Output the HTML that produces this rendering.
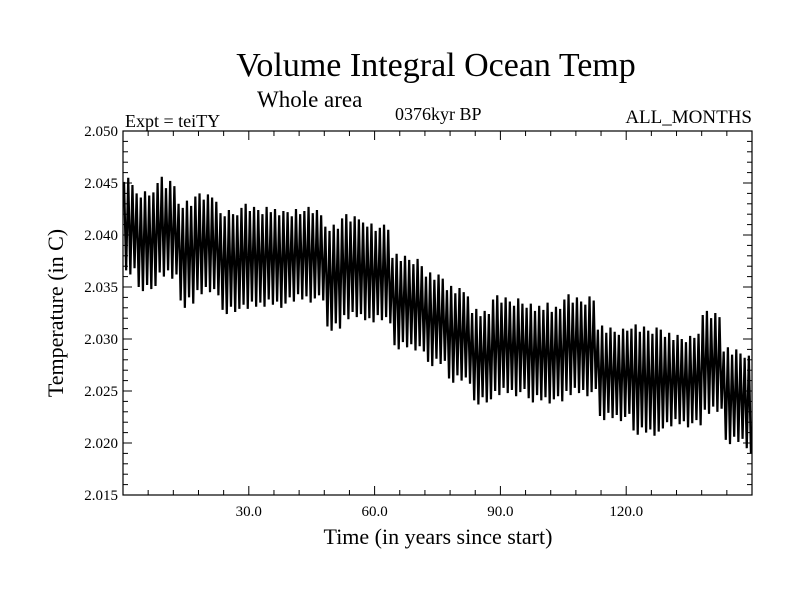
<!DOCTYPE html>
<html><head><meta charset="utf-8"><style>
html,body{margin:0;padding:0;background:#fff;}
svg text{font-family:"Liberation Serif",serif;fill:#000;}
</style></head><body>
<svg id="chart" width="800" height="600" xmlns="http://www.w3.org/2000/svg">
<text x="436" y="76" font-size="34" text-anchor="middle">Volume Integral Ocean Temp</text>
<text x="257" y="107" font-size="23">Whole area</text>
<text x="125" y="127" font-size="18">Expt = teiTY</text>
<text x="395" y="120" font-size="18">0376kyr BP</text>
<text x="752" y="123" font-size="19" text-anchor="end">ALL_MONTHS</text>
<text transform="translate(63,313) rotate(-90)" font-size="22" text-anchor="middle">Temperature (in C)</text>
<text x="438" y="544" font-size="22" text-anchor="middle">Time (in years since start)</text>
<g id="ticks"></g>
<path id="series" fill="none" stroke="#000" stroke-width="2.2" stroke-linejoin="miter"/>
<rect x="123" y="131" width="629" height="364" fill="none" stroke="#000" stroke-width="1.2"/>
</svg>
<script>
const yTickLabels=["2.015","2.020","2.025","2.030","2.035","2.040","2.045","2.050"];
const xTickLabels=["30.0","60.0","90.0","120.0"];
const xTickValues=[30,60,90,120];
// yearly maxima/minima in units of 0.0001 above 2.0
const yearTop=[451,455,448,440,436,442,438,441,450,456,445,452,447,430,426,433,428,437,440,434,439,436,432,421,418,424,420,419,426,430,423,427,424,420,427,422,425,419,423,422,418,425,420,423,427,421,424,419,408,404,410,406,416,420,413,418,415,412,408,411,404,407,410,405,378,382,375,380,376,372,377,370,360,364,357,362,358,347,351,344,349,345,341,325,329,322,327,324,338,342,335,340,336,332,339,334,330,334,327,332,328,335,326,331,329,338,343,335,340,336,333,341,337,309,313,306,311,307,304,310,308,310,314,307,312,308,305,311,309,302,306,299,304,300,297,303,301,305,323,327,320,325,321,288,292,285,290,286,282,284];
const yearBottom=[366,362,368,350,346,352,348,351,364,360,366,358,362,337,330,340,334,347,343,350,345,348,342,328,324,331,326,329,333,329,336,331,335,331,338,333,336,330,334,340,336,343,338,341,335,339,342,337,312,308,315,310,323,319,326,321,324,318,320,316,323,318,321,315,294,290,297,292,295,289,293,288,278,274,281,276,279,262,258,265,260,263,257,241,237,244,239,242,250,246,253,248,251,245,249,252,243,239,246,241,244,238,242,245,240,250,246,253,248,251,245,249,252,226,222,229,224,227,221,225,228,212,208,215,210,213,207,211,214,220,216,223,218,221,215,219,222,217,232,228,235,230,233,203,199,206,201,204,195,190];
const X0=123,X1=752,Y0=495,Y1=131,XMIN=0,XMAX=150,YMIN=2.015,YMAX=2.050;
const xs=v=>X0+(v-XMIN)/(XMAX-XMIN)*(X1-X0);
const ys=v=>Y0-(v-YMIN)/(YMAX-YMIN)*(Y0-Y1);
const NS="http://www.w3.org/2000/svg";
const tg=document.getElementById('ticks');
function mk(tag,at){const e=document.createElementNS(NS,tag);for(const k in at)e.setAttribute(k,at[k]);tg.appendChild(e);return e;}
for(let i=0;i<=35;i++){
  const v=YMIN+i*0.001,y=ys(v),L=(i%5===0)?9:5;
  const a=mk('line',{x1:X0,x2:X0+L,y1:y,y2:y,stroke:'#000','stroke-width':1});
  
  
  const b=mk('line',{x1:X1,x2:X1-L,y1:y,y2:y,stroke:'#000','stroke-width':1});
  
  
}
yTickLabels.forEach((t,i)=>{
  const e=mk('text',{x:118,y:ys(parseFloat(t))+5,'font-size':15,'text-anchor':'end'});
  e.textContent=t;
  
  
});
for(let v=6;v<150;v+=6){
  const x=xs(v),L=(v%30===0)?9:5;
  const a=mk('line',{x1:x,x2:x,y1:Y0,y2:Y0-L,stroke:'#000','stroke-width':1});
  
  
  const b=mk('line',{x1:x,x2:x,y1:Y1,y2:Y1+L,stroke:'#000','stroke-width':1});
  
  
}
xTickLabels.forEach((t,i)=>{
  const e=mk('text',{x:xs(xTickValues[i]),y:516,'font-size':15,'text-anchor':'middle'});
  e.textContent=t;
  
  
});
let d='';
yearTop.forEach((t,i)=>{
  const top=2+t/10000,bot=2+yearBottom[i]/10000;
  d+=(i===0?'M':'L')+xs(i+0.25).toFixed(2)+','+ys(top).toFixed(2)+'L'+xs(i+0.75).toFixed(2)+','+ys(bot).toFixed(2);
});
document.getElementById('series').setAttribute('d',d);
</script>
</body></html>
